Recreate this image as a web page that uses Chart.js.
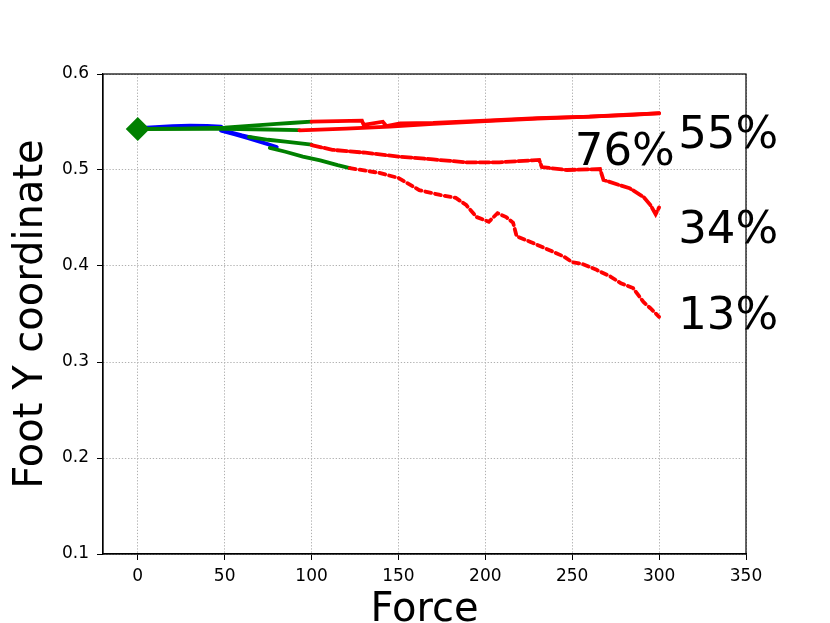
<!DOCTYPE html>
<html>
<head>
<meta charset="utf-8">
<script src="https://cdn.jsdelivr.net/npm/chart.js@4.4.0/dist/chart.umd.min.js"></script>
<style>
  body { margin: 0; background: #fff; }
  #wrap { width: 830px; height: 623px; }
</style>
</head>
<body>
<div id="wrap"><canvas id="myChart" width="830" height="623"></canvas></div>
<script>
// start point (diamond)
const startX = [0];
const startY = [0.5427];

// trajectory A (top, upper branch)
const aGreenX = [0, 25, 50, 60, 70, 80, 90, 100];
const aGreenY = [0.5428, 0.5432, 0.5440, 0.5455, 0.5468, 0.5480, 0.5492, 0.5503];
const aRedX = [100, 129, 130, 141, 143, 151, 170, 200, 230, 260, 285, 300];
const aRedY = [0.5503, 0.5514, 0.5470, 0.5503, 0.5458, 0.5486, 0.5490, 0.5515, 0.5540, 0.5555, 0.5580, 0.5590];

// trajectory B (top, lower branch)
const bBlueX = [0, 10, 20, 30, 40, 48];
const bBlueY = [0.5435, 0.5447, 0.5458, 0.5463, 0.5460, 0.5452];
const bGreenX = [0, 25, 50, 75, 93];
const bGreenY = [0.5425, 0.5428, 0.5428, 0.5422, 0.5415];
const bRedX = [93, 120, 145, 170, 200, 230, 260, 285, 300];
const bRedY = [0.5412, 0.5430, 0.5452, 0.5480, 0.5510, 0.5535, 0.5555, 0.5575, 0.5592];

// trajectory C (middle)
const cBlueX = [48, 55, 60, 66];
const cBlueY = [0.5415, 0.5385, 0.5360, 0.5335];
const cGreenX = [64, 75, 85, 100];
const cGreenY = [0.5345, 0.5315, 0.5295, 0.5265];
const cRedX = [100, 112, 131, 150, 170, 189, 208, 227, 231, 232.5, 247, 266, 268, 283, 291, 295, 298, 300];
const cRedY = [0.526, 0.521, 0.518, 0.514, 0.511, 0.508, 0.508, 0.510, 0.5105, 0.503, 0.500, 0.501, 0.4896, 0.481, 0.472, 0.4635, 0.454, 0.461];

// trajectory D (lowest)
const dBlueX = [48, 56, 64, 72, 80];
const dBlueY = [0.541, 0.537, 0.533, 0.5285, 0.524];
const dGreenX = [76, 85, 95, 105, 115, 122];
const dGreenY = [0.523, 0.519, 0.514, 0.510, 0.505, 0.502];
const dRedX = [122, 139, 150, 162, 174, 183, 189, 195, 202, 207, 212, 216, 218, 226, 235, 245, 250, 256, 264, 272, 278, 285, 291, 295, 300];
const dRedY = [0.502, 0.497, 0.4917, 0.479, 0.474, 0.471, 0.4635, 0.451, 0.446, 0.455, 0.451, 0.445, 0.431, 0.425, 0.418, 0.410, 0.404, 0.402, 0.396, 0.389, 0.382, 0.377, 0.3625, 0.356, 0.347];

// percentage labels
const labelTexts = ['55%', '76%', '34%', '13%'];
const labelX = [311, 251.5, 311, 311];
const labelY = [0.535, 0.517, 0.436, 0.3465];

const xTicks = [0, 50, 100, 150, 200, 250, 300, 350];
const yTicks = [0.1, 0.2, 0.3, 0.4, 0.5, 0.6];

const BLUE = '#0000ff', GREEN = '#008000', RED = '#ff0000';

function pts(xs, ys) {
    return xs.map((x, i) => ({x: x, y: ys[i]}));
}

function seg(xs, ys, color, dash) {
    return {
        data: pts(xs, ys),
        showLine: true,
        borderColor: color,
        backgroundColor: color,
        borderWidth: 3.8,
        borderDash: dash || [],
        pointRadius: 0,
        borderCapStyle: 'round',
        tension: 0
    };
}

const framePlugin = {
    id: 'frame',
    afterDatasetsDraw(chart) {
        const {ctx, chartArea: a, scales} = chart;
        ctx.save();
        ctx.strokeStyle = '#000';
        ctx.lineWidth = 1.2;
        ctx.setLineDash([]);
        ctx.strokeRect(a.left, a.top, a.right - a.left, a.bottom - a.top);
        ctx.fillStyle = '#000';
        ctx.font = '45px "DejaVu Sans"';
        ctx.textAlign = 'left';
        ctx.textBaseline = 'middle';
        labelTexts.forEach((t, i) => {
            ctx.fillText(t, scales.x.getPixelForValue(labelX[i]), scales.y.getPixelForValue(labelY[i]));
        });
        ctx.restore();
    }
};

const tickFont = {family: 'DejaVu Sans', size: 17};
const gridOpts = {
    color: '#b0b0b0',
    lineWidth: 1,
    tickColor: '#000',
    tickBorderDash: [],
    tickLength: 6,
    tickWidth: 1
};

const ctx = document.getElementById('myChart');
const chartGraphic = new Chart(ctx, {
    type: 'scatter',
    data: {
        datasets: [
            {
                data: pts(startX, startY),
                pointStyle: 'rectRot',
                pointRadius: 12,
                backgroundColor: GREEN,
                borderColor: GREEN,
                borderWidth: 0
            },
            seg(aRedX, aRedY, RED),
            seg(bRedX, bRedY, RED),
            seg(cRedX, cRedY, RED, [10, 3]),
            seg(dRedX, dRedY, RED, [6, 4]),
            seg(aGreenX, aGreenY, GREEN),
            seg(bGreenX, bGreenY, GREEN),
            seg(cGreenX, cGreenY, GREEN),
            seg(dGreenX, dGreenY, GREEN),
            seg(bBlueX, bBlueY, BLUE),
            seg(cBlueX, cBlueY, BLUE),
            seg(dBlueX, dBlueY, BLUE)
        ]
    },
    options: {
        responsive: false,
        animation: false,
        layout: {padding: {top: 74, right: 84, left: 0, bottom: 0}},
        plugins: {legend: {display: false}, tooltip: {enabled: false}},
        scales: {
            x: {
                type: 'linear',
                min: -20,
                max: 350,
                afterBuildTicks: (s) => { s.ticks = xTicks.map(v => ({value: v})); },
                afterFit: (s) => { s.height = 69; },
                ticks: {color: '#000', font: tickFont, padding: 6, maxRotation: 0},
                grid: gridOpts,
                border: {display: true, color: '#000', width: 1.2, dash: [1.3, 1.8]},
                title: {
                    display: true,
                    text: 'Force',
                    color: '#000',
                    font: {family: 'DejaVu Sans', size: 40, lineHeight: 1},
                    padding: {top: 0, bottom: -8}
                }
            },
            y: {
                type: 'linear',
                min: 0.1,
                max: 0.6,
                afterBuildTicks: (s) => { s.ticks = yTicks.map(v => ({value: v})); },
                afterFit: (s) => { s.width = 103; },
                ticks: {color: '#000', font: tickFont, padding: 8, callback: v => v.toFixed(1)},
                grid: gridOpts,
                border: {display: true, color: '#000', width: 1.2, dash: [1.3, 1.8]},
                title: {
                    display: true,
                    text: 'Foot Y coordinate',
                    color: '#000',
                    font: {family: 'DejaVu Sans', size: 40, lineHeight: 1},
                    padding: {top: 12, bottom: 0}
                }
            }
        }
    },
    plugins: [framePlugin]
});
</script>
</body>
</html>
